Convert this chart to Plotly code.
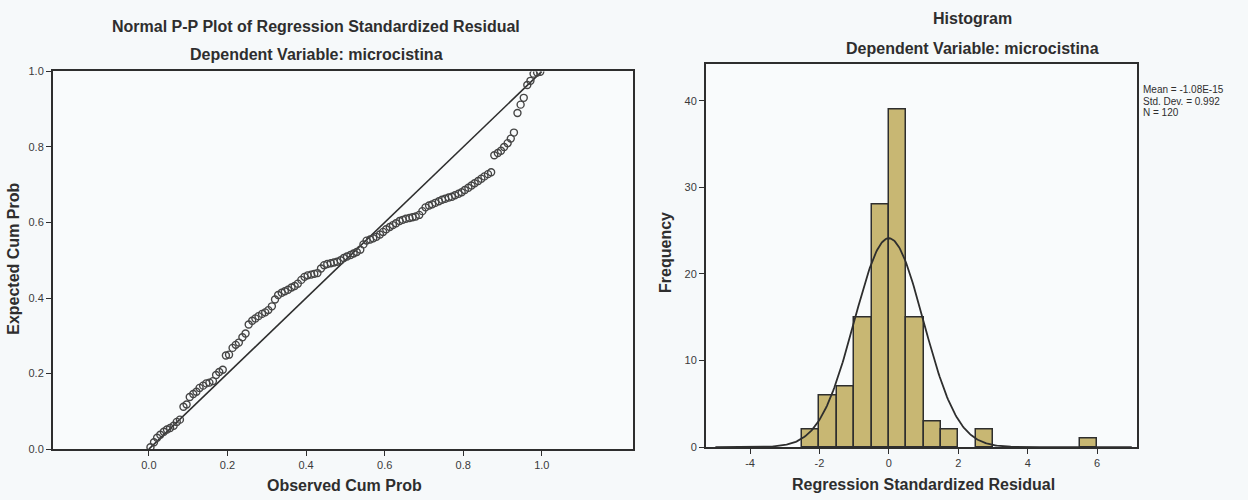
import plotly.graph_objects as go
import numpy as np

W, H = 1248, 500

# ---------------- P-P plot data ----------------
obs_cum_prob = [
    0.004, 0.013, 0.021, 0.029, 0.038, 0.046, 0.054, 0.063, 0.071, 0.079, 0.088, 0.096,
    0.104, 0.113, 0.121, 0.129, 0.138, 0.146, 0.154, 0.163, 0.171, 0.179, 0.188, 0.196,
    0.204, 0.213, 0.221, 0.229, 0.238, 0.246, 0.254, 0.263, 0.271, 0.279, 0.288, 0.296,
    0.304, 0.313, 0.321, 0.329, 0.338, 0.346, 0.354, 0.363, 0.371, 0.379, 0.388, 0.396,
    0.404, 0.413, 0.421, 0.429, 0.438, 0.446, 0.454, 0.463, 0.471, 0.479, 0.488, 0.496,
    0.504, 0.513, 0.521, 0.529, 0.538, 0.546, 0.554, 0.563, 0.571, 0.579, 0.588, 0.596,
    0.604, 0.613, 0.621, 0.629, 0.638, 0.646, 0.654, 0.663, 0.671, 0.679, 0.688, 0.696,
    0.704, 0.713, 0.721, 0.729, 0.738, 0.746, 0.754, 0.763, 0.771, 0.779, 0.788, 0.796,
    0.804, 0.813, 0.821, 0.829, 0.838, 0.846, 0.854, 0.863, 0.871, 0.879, 0.888, 0.896,
    0.904, 0.913, 0.921, 0.929, 0.938, 0.946, 0.954, 0.963, 0.971, 0.979, 0.988, 0.996,
]
exp_cum_prob = [
    0.005, 0.018, 0.030, 0.038, 0.046, 0.052, 0.056, 0.062, 0.072, 0.078, 0.112, 0.118,
    0.138, 0.146, 0.152, 0.162, 0.168, 0.174, 0.176, 0.180, 0.196, 0.204, 0.210, 0.248,
    0.250, 0.268, 0.276, 0.282, 0.296, 0.306, 0.330, 0.340, 0.346, 0.352, 0.358, 0.362,
    0.368, 0.378, 0.396, 0.408, 0.414, 0.418, 0.422, 0.428, 0.432, 0.438, 0.448, 0.456,
    0.460, 0.462, 0.464, 0.466, 0.478, 0.487, 0.490, 0.492, 0.494, 0.496, 0.500, 0.506,
    0.510, 0.514, 0.518, 0.522, 0.528, 0.542, 0.552, 0.555, 0.558, 0.562, 0.568, 0.575,
    0.582, 0.588, 0.593, 0.598, 0.604, 0.607, 0.610, 0.612, 0.614, 0.616, 0.620, 0.630,
    0.640, 0.645, 0.648, 0.652, 0.656, 0.660, 0.663, 0.666, 0.668, 0.672, 0.676, 0.680,
    0.686, 0.692, 0.698, 0.704, 0.710, 0.716, 0.722, 0.728, 0.733, 0.778, 0.784, 0.790,
    0.800, 0.810, 0.822, 0.838, 0.890, 0.912, 0.930, 0.964, 0.975, 0.994, 0.997, 0.999,
]
ref_line = [0.0, 1.0]
pp_ticks = [0.0, 0.2, 0.4, 0.6, 0.8, 1.0]
pp_ticklabels = ["0.0", "0.2", "0.4", "0.6", "0.8", "1.0"]

# ---------------- Histogram data ----------------
bin_starts = [-2.5, -2.0, -1.5, -1.0, -0.5, 0.0, 0.5, 1.0, 1.5, 2.5, 5.5]
bin_counts = [2, 6, 7, 15, 28, 39, 15, 3, 2, 2, 1]
bin_width = 0.5
hist_xticks = [-4, -2, 0, 2, 4, 6]
hist_xticklabels = ["-4", "-2", "0", "2", "4", "6"]
hist_yticks = [0, 10, 20, 30, 40]
res_mean = -1.08e-15
res_sd = 0.992
res_n = 120
stats_lines = ["Mean = -1.08E-15", "Std. Dev. = 0.992", "N = 120"]

# ---------------- styling ----------------
BG = "#F6F9FA"
INK = "#2E2E2E"
BAR = "#C8B773"
FONT = "Liberation Sans, Arial, sans-serif"


def pxx(x):
    return x / W


def pxy(y):
    return 1 - y / H


fig = go.Figure()

# P-P plot
fig.add_trace(go.Scatter(
    x=ref_line, y=ref_line, mode="lines",
    line=dict(color=INK, width=1.6), xaxis="x", yaxis="y", showlegend=False,
    hoverinfo="skip"))
fig.add_trace(go.Scatter(
    x=obs_cum_prob, y=exp_cum_prob, mode="markers",
    marker=dict(symbol="circle-open", size=7, color="#454545", line=dict(width=1.4, color="#454545")),
    xaxis="x", yaxis="y", showlegend=False))

# Histogram
bar_centers = [s + bin_width / 2 for s in bin_starts]
fig.add_trace(go.Bar(
    x=bar_centers, y=bin_counts, width=bin_width,
    marker=dict(color=BAR, line=dict(color=INK, width=1.5)),
    xaxis="x2", yaxis="y2", showlegend=False))

# fitted normal curve from the stated Mean / Std. Dev. / N
curve_x = np.linspace(-5.0, 7.0, 400)
curve_y = res_n * bin_width * np.exp(-0.5 * ((curve_x - res_mean) / res_sd) ** 2) / (res_sd * np.sqrt(2 * np.pi))
fig.add_trace(go.Scatter(
    x=curve_x, y=curve_y, mode="lines", line=dict(color=INK, width=1.8),
    xaxis="x2", yaxis="y2", showlegend=False, hoverinfo="skip"))

axis_common = dict(
    showgrid=False, zeroline=False, showline=True, mirror=True,
    linecolor=INK, linewidth=2, ticks="outside", ticklen=5, tickwidth=1.2,
    tickcolor=INK, tickfont=dict(family=FONT, size=11, color="#3a3a3a"),
)

fig.update_layout(
    width=W, height=H,
    margin=dict(l=0, r=0, t=0, b=0),
    paper_bgcolor=BG, plot_bgcolor="#F9FBFC",
    bargap=0,
    xaxis=dict(domain=[pxx(53), pxx(633)], range=[-0.244, 1.232],
               tickvals=pp_ticks, ticktext=pp_ticklabels, anchor="y", **axis_common),
    yaxis=dict(domain=[pxy(454), pxy(67)], range=[0, 1],
               tickvals=pp_ticks, ticktext=pp_ticklabels, anchor="x", **axis_common),
    xaxis2=dict(domain=[pxx(706), pxx(1137)], range=[-5.27, 7.15],
                tickvals=hist_xticks, ticktext=hist_xticklabels, anchor="y2", **axis_common),
    yaxis2=dict(domain=[pxy(452), pxy(59)], range=[0, 44.3],
                tickvals=hist_yticks, anchor="x2", **axis_common),
)

annotations = [
    dict(text="<b>Normal P-P Plot of Regression Standardized Residual</b>", x=pxx(316), y=pxy(21)),
    dict(text="<b>Dependent Variable: microcistina</b>", x=pxx(316), y=pxy(50)),
    dict(text="<b>Observed Cum Prob</b>", x=pxx(344), y=pxy(491)),
    dict(text="<b>Expected Cum Prob</b>", x=pxx(14), y=pxy(259), angle=-90),
    dict(text="<b>Histogram</b>", x=pxx(972), y=pxy(13)),
    dict(text="<b>Dependent Variable: microcistina</b>", x=pxx(972), y=pxy(44)),
    dict(text="<b>Regression Standardized Residual</b>", x=pxx(923), y=pxy(490)),
    dict(text="<b>Frequency</b>", x=pxx(666), y=pxy(253), angle=-90),
]
for a in annotations:
    fig.add_annotation(
        text=a["text"], x=a["x"], y=a["y"], xref="paper", yref="paper",
        xanchor="center", yanchor="middle", showarrow=False,
        textangle=a.get("angle", 0),
        font=dict(family=FONT, size=16, color=INK))

for i, line in enumerate(stats_lines):
    fig.add_annotation(
        text=line, x=pxx(1141), y=pxy(86 + 11.5 * i), xref="paper", yref="paper",
        xanchor="left", yanchor="middle", showarrow=False,
        font=dict(family=FONT, size=10, color=INK))

fig.write_html("out.html")
